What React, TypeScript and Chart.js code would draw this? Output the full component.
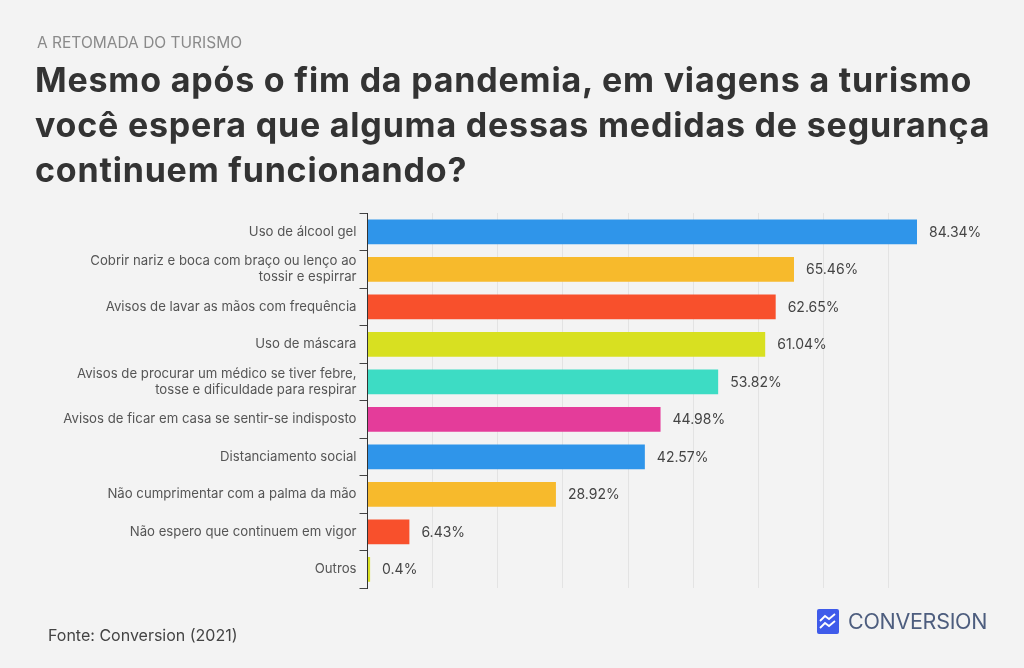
import React, { useEffect, useRef } from "react";
import { Chart, registerables } from "chart.js";

Chart.register(...registerables);

const categories: (string | string[])[] = [
  "Uso de álcool gel",
  ["Cobrir nariz e boca com braço ou lenço ao", "tossir e espirrar"],
  "Avisos de lavar as mãos com frequência",
  "Uso de máscara",
  ["Avisos de procurar um médico se tiver febre,", "tosse e dificuldade para respirar"],
  "Avisos de ficar em casa se sentir-se indisposto",
  "Distanciamento social",
  "Não cumprimentar com a palma da mão",
  "Não espero que continuem em vigor",
  "Outros",
];
const values = [84.34, 65.46, 62.65, 61.04, 53.82, 44.98, 42.57, 28.92, 6.43, 0.4];
const barColors = [
  "#2F95EA",
  "#F7BA2C",
  "#F8502C",
  "#D8E021",
  "#3DDCC4",
  "#E43C9A",
  "#2F95EA",
  "#F7BA2C",
  "#F8502C",
  "#D8E021",
];

const FONT = "Inter, 'Noto Sans', sans-serif";

const valueLabels = {
  id: "valueLabels",
  afterDatasetsDraw(chart: any) {
    const ctx = chart.ctx;
    const meta = chart.getDatasetMeta(0);
    ctx.save();
    ctx.font = `14px ${FONT}`;
    ctx.fillStyle = "#444444";
    ctx.textAlign = "left";
    ctx.textBaseline = "middle";
    meta.data.forEach((bar: any, i: number) => {
      ctx.fillText(`${values[i]}%`, bar.x + 12, bar.y + 1);
    });
    ctx.restore();
  },
};

export default function App() {
  const ref = useRef<HTMLCanvasElement>(null);
  useEffect(() => {
    if (!ref.current) return;
    const chart = new Chart(ref.current, {
      type: "bar",
      data: {
        labels: categories,
        datasets: [
          {
            data: values,
            backgroundColor: barColors,
            borderWidth: 0,
            barPercentage: 0.66,
            categoryPercentage: 1,
          },
        ],
      },
      options: {
        indexAxis: "y",
        animation: false,
        responsive: false,
        maintainAspectRatio: false,
        layout: { padding: { top: 213, bottom: 80, right: 107, left: 0 } },
        plugins: { legend: { display: false }, tooltip: { enabled: false } },
        scales: {
          x: {
            min: 0,
            max: 84.34,
            ticks: { display: false, stepSize: 10, includeBounds: false },
            grid: { color: "#e3e3e3", drawTicks: false },
            border: { display: false },
          },
          y: {
            afterFit: (scale: any) => {
              scale.width = 367.5;
            },
            ticks: {
              color: "#555555",
              font: { family: FONT, size: 13.2 },
              padding: 3,
            },
            grid: {
              drawOnChartArea: false,
              drawTicks: true,
              tickLength: 8,
              color: "#444444",
            },
            border: { display: true, color: "#333333", width: 1 },
          },
        },
      },
      plugins: [valueLabels],
    });
    return () => chart.destroy();
  }, []);

  return (
    <div
      style={{
        position: "fixed",
        left: 0,
        top: 0,
        width: 1024,
        height: 668,
        background: "#f3f3f3",
        fontFamily: FONT,
        overflow: "hidden",
      }}
    >
      <canvas
        ref={ref}
        width={1024}
        height={668}
        style={{ position: "absolute", left: 0, top: 0, width: 1024, height: 668 }}
      />
      <div
        style={{
          position: "absolute",
          left: 37,
          top: 33,
          fontSize: 15.5,
          lineHeight: "20px",
          color: "#8a8a8a",
          whiteSpace: "nowrap",
        }}
      >
        A RETOMADA DO TURISMO
      </div>
      <div
        style={{
          position: "absolute",
          left: 35,
          top: 57,
          width: 990,
          fontSize: 34,
          fontWeight: 700,
          lineHeight: "45px",
          color: "#333333",
          letterSpacing: 0.8,
          whiteSpace: "nowrap",
        }}
      >
        Mesmo após o fim da pandemia, em viagens a turismo
        <br />
        você espera que alguma dessas medidas de segurança
        <br />
        continuem funcionando?
      </div>
      <div
        style={{
          position: "absolute",
          left: 48,
          top: 625,
          fontSize: 16,
          lineHeight: "20px",
          color: "#444444",
          whiteSpace: "nowrap",
        }}
      >
        Fonte: Conversion (2021)
      </div>
      <div
        style={{
          position: "absolute",
          left: 817,
          top: 608,
          display: "flex",
          alignItems: "center",
        }}
      >
        <svg width="22" height="25" viewBox="0 0 22 25">
          <rect x="0" y="0" width="22" height="25" rx="2" fill="#3F5BEA" />
          <path d="M3 12 L8 7 L12 10 L18 5" stroke="#ffffff" strokeWidth="1.8" fill="none" />
          <path d="M3 19 L8 14 L12 17 L18 12" stroke="#ffffff" strokeWidth="1.8" fill="none" />
        </svg>
        <span
          style={{
            marginLeft: 9,
            fontSize: 21.5,
            color: "#4d5d7e",
            letterSpacing: -0.3,
            whiteSpace: "nowrap",
          }}
        >
          CONVERSION
        </span>
      </div>
    </div>
  );
}
